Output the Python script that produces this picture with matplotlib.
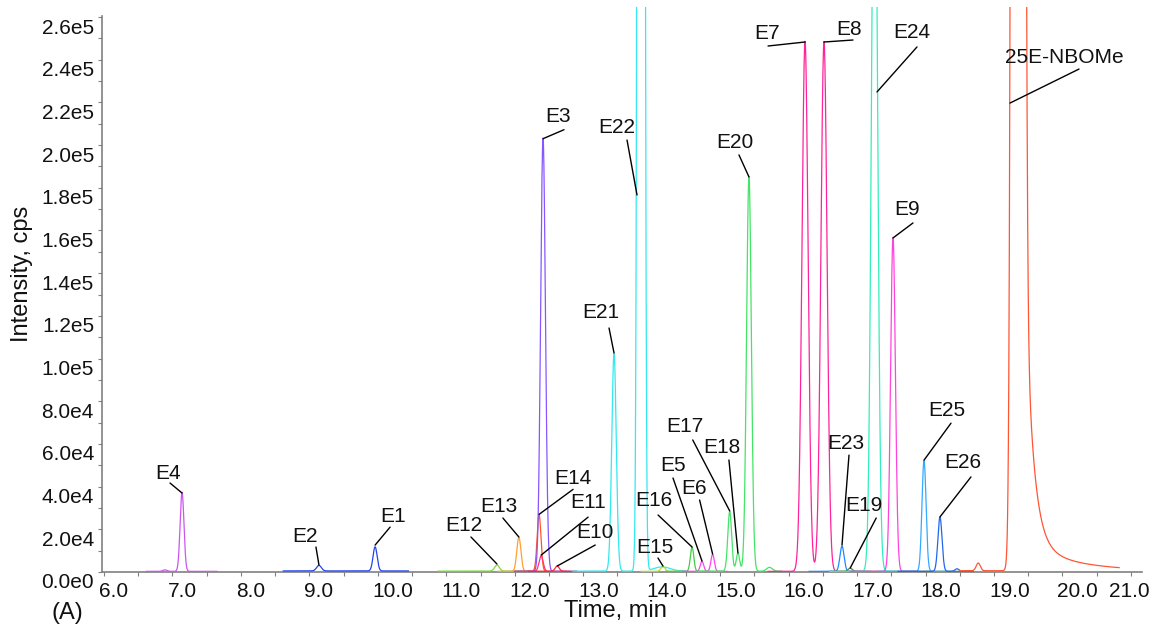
import numpy as np
import matplotlib
matplotlib.use("Agg")
import matplotlib.pyplot as plt
import matplotlib.transforms as mtransforms

plt.rcParams['font.family'] = ['Liberation Sans', 'DejaVu Sans']

# ---------------- data ----------------
trace_colors = ['#cc55ee', '#2244ee', '#77dd33', '#ffa030', '#ff5522', '#ff3377',
                '#8855ff', '#ff2244', '#33e8f0', '#bbdd22', '#44cc44', '#ff44ee',
                '#44e466', '#ff2299', '#2288ff', '#558822', '#33eebb', '#ff44dd',
                '#33aaff', '#2266ee', '#ff5533']
trace_start = [6.62, 8.62, 10.88, 11.75, 12.00, 12.00, 12.00, 12.20, 12.85, 13.85, 14.20,
               14.45, 14.65, 15.70, 16.30, 16.60, 16.60, 16.90, 17.30, 17.60, 18.50]
trace_end = [7.65, 10.45, 12.30, 12.45, 12.75, 12.80, 12.90, 12.90, 14.50, 14.45, 14.85,
             15.10, 15.90, 17.10, 17.20, 18.70, 17.70, 17.90, 18.40, 18.50, 20.83]
trace_baseline = [300, 500, 400, 300, 300, 300, 300, 300, 400, 300, 300,
                  300, 400, 300, 300, 300, 300, 300, 300, 300, 600]

peak_trace = [0, 0, 1, 1, 2, 3, 4, 5, 6, 7, 8, 8, 8, 9, 10, 11, 11, 12, 12, 12, 12,
              13, 13, 14, 15, 16, 17, 18, 19, 19, 20, 20]
peak_rt = [7.14, 6.89, 9.14, 9.96, 11.74, 12.06, 12.355, 12.385, 12.413, 12.62,
           13.45, 13.845, 14.15, 14.165, 14.59, 14.735, 14.89, 15.14, 15.26, 15.421, 15.72,
           16.24, 16.517, 16.78, 16.90, 17.255, 17.525, 17.978, 18.211, 18.46, 19.351, 18.77]
peak_height = [37000, 700, 2600, 11300, 2900, 16000, 26500, 7200, 203000, 2500,
               102000, 3.4e6, 2000, 2400, 11300, 4700, 8000, 28000, 8500, 185000, 1800,
               248300, 248300, 11800, 1500, 3.8e5, 156500, 52000, 25500, 1200, 8.0e6, 3600]
peak_sigma = [0.028, 0.03, 0.035, 0.03, 0.035, 0.03, 0.028, 0.03, 0.035, 0.03,
              0.033, 0.029, 0.12, 0.03, 0.025, 0.025, 0.025, 0.028, 0.025, 0.035, 0.04,
              0.045, 0.045, 0.03, 0.03, 0.043, 0.035, 0.03, 0.03, 0.03, 0.045, 0.03]

# tailing of the 25E-NBOMe peak
tail_trace = 20
tail_rt = 19.351
tail_amp = [331000, 17000]
tail_tau = [0.109, 0.6]

label_names = ['E4', 'E2', 'E1', 'E12', 'E13', 'E14', 'E11', 'E10', 'E21', 'E15', 'E16',
               'E5', 'E6', 'E17', 'E18', 'E3', 'E22', 'E20', 'E7', 'E8', 'E24', 'E9',
               '25E-NBOMe', 'E23', 'E19', 'E25', 'E26']
label_tip_x = [7.14, 9.14, 9.96, 11.74, 12.06, 12.355, 12.385, 12.62, 13.45, 14.165, 14.59,
               14.735, 14.89, 15.14, 15.26, 12.413, 13.786, 15.421, 16.24, 16.517, 17.291,
               17.525, 19.234, 16.78, 16.90, 17.978, 18.211]
label_tip_y = [37000, 3280, 12600, 3750, 16400, 27000, 7900, 2800, 102600, 2800, 11700,
               5150, 8430, 28600, 8900, 203000, 176600, 185100, 248300, 248300, 224900,
               156500, 219700, 12600, 1870, 52400, 25800]

x_ticks = [6.0, 7.0, 8.0, 9.0, 10.0, 11.0, 12.0, 13.0, 14.0, 15.0, 16.0, 17.0, 18.0,
           19.0, 20.0, 21.0]
x_tick_labels = ['6.0', '7.0', '8.0', '9.0', '10.0', '11.0', '12.0', '13.0', '14.0',
                 '15.0', '16.0', '17.0', '18.0', '19.0', '20.0', '21.0']
y_ticks = [0, 2e4, 4e4, 6e4, 8e4, 1e5, 1.2e5, 1.4e5, 1.6e5, 1.8e5, 2e5, 2.2e5, 2.4e5, 2.6e5]
y_tick_labels = ['0.0e0', '2.0e4', '4.0e4', '6.0e4', '8.0e4', '1.0e5', '1.2e5', '1.4e5',
                 '1.6e5', '1.8e5', '2.0e5', '2.2e5', '2.4e5', '2.6e5']

# ---------------- layout (pixel offsets of leader start and text from tip) ----------------
line_off = [(-12, 10), (-3, 18), (15, 18), (-26, 27), (-16, 19), (34, 25), (47, 38),
            (38, 21), (-5, 25), (-5, 8), (-34, 32), (-29, 83), (-13, 54), (-37, 71),
            (-9, 93), (21, 9), (-10, 55), (-10, 22), (-37, -4), (29, 2), (40, 45),
            (20, 15), (69, 34), (7, 90), (26, 50), (27, 37), (31, 40)]
text_off = [(-14, 20), (-14, 28), (18, 29), (-33, 38), (-20, 30), (34, 36), (47, 53),
            (38, 34), (-13, 41), (-8, 19), (-38, 47), (-29, 96), (-19, 66), (-45, 84),
            (-16, 106), (15, 22), (-20, 68), (-14, 34), (-38, 9), (25, 13), (35, 59),
            (14, 28), (54, 46), (4, 102), (14, 63), (23, 50), (23, 54)]

W, H = 1155, 628
fig = plt.figure(figsize=(W / 100, H / 100), dpi=100)
ax = fig.add_axes([102 / W, 1 - 572 / H, 1040 / W, 565 / H])
ax.set_xlim(5.971, 21.162)
ax.set_ylim(0, 2.647e5)

# ---------------- traces ----------------
for i, col in enumerate(trace_colors):
    t = np.arange(trace_start[i], trace_end[i], 0.002)
    y = np.full_like(t, trace_baseline[i], dtype=float)
    for k in range(len(peak_rt)):
        if peak_trace[k] == i:
            y += peak_height[k] * np.exp(-0.5 * ((t - peak_rt[k]) / peak_sigma[k]) ** 2)
    if i == tail_trace:
        dt = np.clip(t - tail_rt, 0, None)
        for a, tau in zip(tail_amp, tail_tau):
            y += np.where(t > tail_rt, a * np.exp(-dt / tau), 0.0)
    ax.plot(t, y, color=col, lw=0.9, zorder=3)

# ---------------- annotations ----------------
for name, tx, ty, lo, to in zip(label_names, label_tip_x, label_tip_y, line_off, text_off):
    ax.annotate('', xy=(tx, ty), xytext=lo, textcoords='offset pixels',
                arrowprops=dict(arrowstyle='-', color='black', lw=1.0,
                                shrinkA=0, shrinkB=0), zorder=5, annotation_clip=False)
    ax.annotate(name, xy=(tx, ty), xytext=to, textcoords='offset pixels',
                ha='center', va='center', fontsize=15, color='#111111', zorder=6,
                annotation_clip=False)

# ---------------- axes styling ----------------
for s in ['top', 'right']:
    ax.spines[s].set_visible(False)
for s in ['left', 'bottom']:
    ax.spines[s].set_color('#808080')
    ax.spines[s].set_linewidth(1.2)
ax.spines['left'].set_bounds(0, 2.605e5)
ax.spines['bottom'].set_zorder(2)

ax.set_xticks(np.arange(6.0, 21.01, 0.5))
ax.set_yticks(np.arange(0, 2.61e5, 1e4))
ax.set_xticklabels([])
ax.set_yticklabels([])
ax.tick_params(axis='both', direction='out', length=3, width=0.8, color='#808080')

px = 1 / 100.0
bx = mtransforms.blended_transform_factory(ax.transData, ax.transAxes)
by = mtransforms.blended_transform_factory(ax.transAxes, ax.transData)
for v, s in zip(x_ticks, x_tick_labels):
    dx = -22 if v == x_ticks[-1] else -5
    tr = bx + mtransforms.ScaledTranslation(dx * px, -25 * px, fig.dpi_scale_trans)
    ax.text(v, 0, s, transform=tr, ha='left', va='baseline', fontsize=15,
            color='#111111', clip_on=False)
for v, s in zip(y_ticks, y_tick_labels):
    tr = by + mtransforms.ScaledTranslation(-8 * px, -16.5 * px, fig.dpi_scale_trans)
    ax.text(0, v, s, transform=tr, ha='right', va='baseline', fontsize=15,
            color='#111111', clip_on=False)

fig.text(615 / W, 1 - 617 / H, 'Time, min', ha='center', va='baseline', fontsize=17,
         color='#111111')
fig.text(22 / W, 1 - 274 / H, 'Intensity, cps', ha='center', va='center', rotation=90,
         fontsize=17, color='#111111')
fig.text(67 / W, 1 - 613 / H, '(A)', ha='center', va='center', fontsize=17,
         color='#111111')

fig.savefig('out.png', dpi=100)
